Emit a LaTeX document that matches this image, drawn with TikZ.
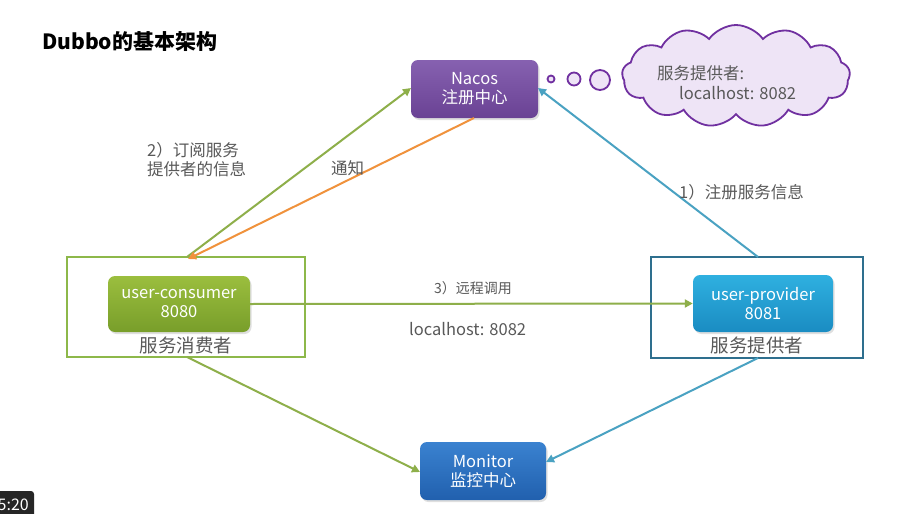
\documentclass[tikz,border=0pt]{standalone}
\usepackage{fontspec}
\setmainfont{Noto Sans CJK SC}
\usetikzlibrary{arrows.meta,shapes.symbols,shadows}
\definecolor{txtgray}{HTML}{595959}
\definecolor{nacosA}{HTML}{8661B0}
\definecolor{nacosB}{HTML}{6A4294}
\definecolor{consA}{HTML}{9BBE3E}
\definecolor{consB}{HTML}{789E2A}
\definecolor{provA}{HTML}{2FB0E0}
\definecolor{provB}{HTML}{1A8CC2}
\definecolor{monA}{HTML}{3A82D0}
\definecolor{monB}{HTML}{2160AE}
\definecolor{lgreen}{HTML}{8DB84A}
\definecolor{lteal}{HTML}{2E6F8E}
\definecolor{agreen}{HTML}{8EAF4A}
\definecolor{aorange}{HTML}{F0923C}
\definecolor{ateal}{HTML}{4AA2C2}
\definecolor{cloudfill}{HTML}{EEE4F6}
\definecolor{cloudline}{HTML}{7030A0}
\tikzset{
  comp/.style={rounded corners=7pt, text=white, align=center, font=\fontsize{16.5}{19}\selectfont,
     inner sep=0pt, drop shadow={opacity=0.25, shadow xshift=1.5pt, shadow yshift=-2pt}},
  grp/.style={draw, line width=1.6pt, fill=none},
  lbl/.style={text=txtgray, font=\fontsize{16.5}{19}\selectfont, align=left, inner sep=0pt},
  conn/.style={line width=2pt, -{Triangle[length=8pt,width=8pt]}},
  bubble/.style={draw=cloudline, fill=cloudfill, line width=1.8pt, circle, inner sep=0pt}
}
\begin{document}
\begin{tikzpicture}[x=1pt,y=-1pt]
\useasboundingbox (0,0) rectangle (913,514);
\fill[white] (0,0) rectangle (913,514);
% title
\node[anchor=west, inner sep=0pt, font=\fontsize{21}{24}\selectfont\bfseries] (title) at (42,42) {Dubbo的基本架构};
% group boxes
\node[grp, draw=lgreen, minimum width=238pt, minimum height=100pt, inner sep=0pt] (cgrp) at (186,307) {};
\node[grp, draw=lteal, minimum width=212pt, minimum height=101pt, inner sep=0pt] (pgrp) at (757,307.5) {};
% components
\node[comp, top color=nacosA, bottom color=nacosB, minimum width=127pt, minimum height=58pt] (nacos) at (474.5,89) {Nacos\\注册中心};
\node[comp, top color=consA, bottom color=consB, minimum width=142pt, minimum height=56pt] (cons) at (179,304) {user-consumer\\8080};
\node[comp, top color=provA, bottom color=provB, minimum width=140pt, minimum height=57pt] (prov) at (763,303.5) {user-provider\\8081};
\node[comp, top color=monA, bottom color=monB, minimum width=126pt, minimum height=58pt] (mon) at (483,471) {Monitor\\监控中心};
% group captions
\node[lbl, font=\fontsize{18.5}{21}\selectfont] (clab) at (186,345) {服务消费者};
\node[lbl, font=\fontsize{18.5}{21}\selectfont] (plab) at (757,345) {服务提供者};
% cloud & bubbles
\node[cloud, cloud puffs=13, cloud puff arc=110, aspect=2.3, draw=cloudline, fill=cloudfill, line width=1.8pt,
      minimum width=228pt, minimum height=102pt, inner sep=0pt] (cloud) at (736,76) {};
\node[lbl, anchor=west] (ctext1) at (657,73) {服务提供者:};
\node[lbl, anchor=west] (ctext2) at (679,93) {localhost: 8082};
\node[bubble, minimum size=7pt] (b1) at (551,79) {};
\node[bubble, minimum size=13pt] (b2) at (574,79) {};
\node[bubble, minimum size=20pt] (b3) at (600,80) {};
% connector anchors
\coordinate (ctop) at (187,257);
\coordinate (ptop) at (758,257);
\coordinate (cbot) at (187,357);
\coordinate (pbot) at (758,358);
\coordinate (nleft) at (411,88);
\coordinate (nright) at (538,88);
\coordinate (nbot) at (474,118);
\coordinate (cbtop) at (188,259);
\coordinate (mleft) at (420,472);
\coordinate (mright) at (546,462);
% connectors
\draw[conn, agreen] (ctop) -- (nleft);
\draw[conn, aorange] (nbot) -- (cbtop);
\draw[conn, ateal] (ptop) -- (nright);
\draw[conn, agreen] (cons.east) -- (prov.west);
\draw[conn, agreen] (cbot) -- (mleft);
\draw[conn, ateal] (pbot) -- (mright);
% labels
\node[lbl, anchor=west] (l2) at (147,160) {2）订阅服务\\提供者的信息};
\node[lbl, anchor=west] (ln) at (331,168) {通知};
\node[lbl, anchor=west] (l1) at (679,192) {1）注册服务信息};
\node[lbl, anchor=west, font=\fontsize{14}{16}\selectfont] (l3) at (434,288) {3）远程调用};
\node[lbl, anchor=west] (lh) at (409,329) {localhost: 8082};
% video timestamp overlay
\begin{scope}
\clip (0,490) rectangle (40,514);
\fill[black!85, rounded corners=3pt] (-20,491) rectangle (34,520);
\node[text=white, anchor=east, inner sep=0pt, font=\fontsize{16}{18}\selectfont] (ts) at (29,505) {5:20};
\end{scope}
\end{tikzpicture}
\end{document}
